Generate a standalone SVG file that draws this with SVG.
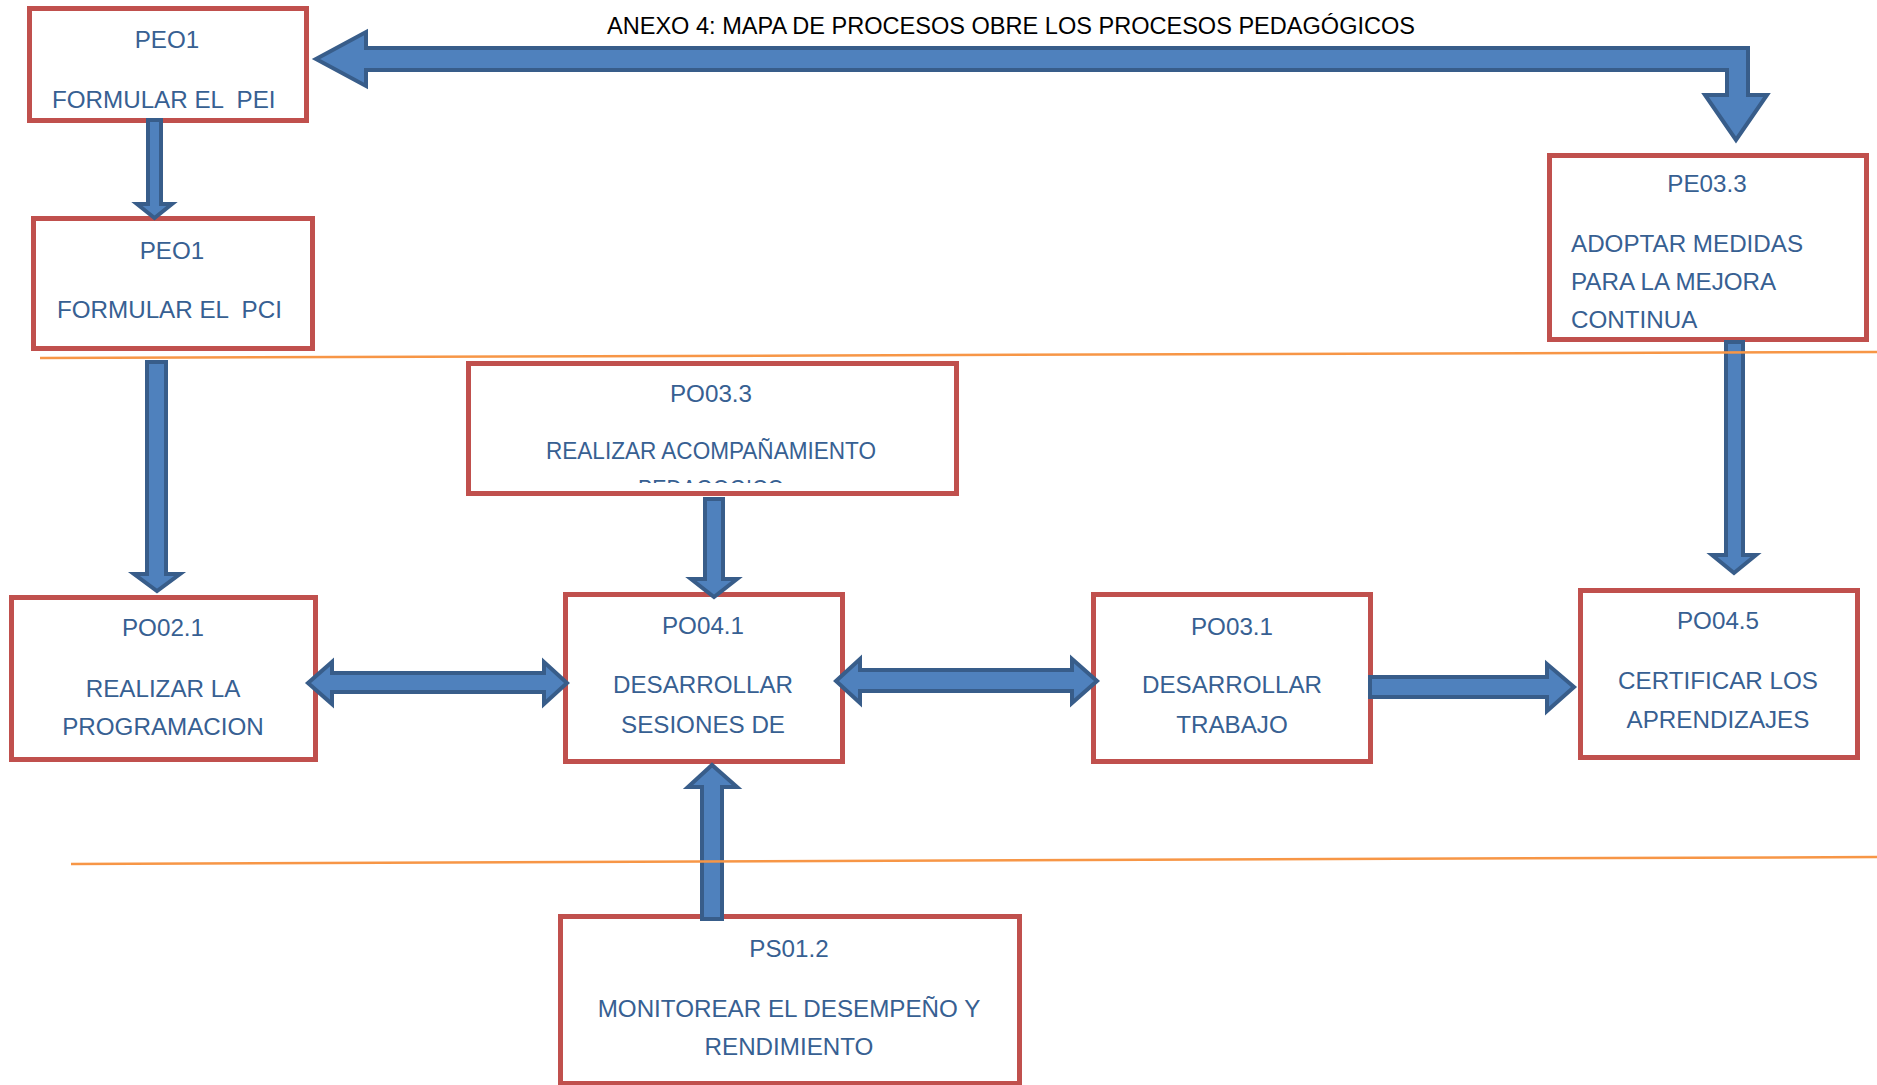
<svg xmlns="http://www.w3.org/2000/svg" width="1877" height="1085" viewBox="0 0 1877 1085">
<style>
.box{fill:#FFFFFF;stroke:#C0504D;stroke-width:5}
.t{font-family:"Liberation Sans",Arial,sans-serif;font-size:24.2px;fill:#376092}
.c{text-anchor:middle}
.title{font-family:"Liberation Sans",Arial,sans-serif;font-size:23px;fill:#000000}
.arr{fill:#4F81BD;stroke:#385D8A;stroke-width:4;stroke-linejoin:miter}
.sep{fill:none;stroke:#F79646;stroke-width:2.5}
</style>
<defs>
<clipPath id="clipPO33"><rect x="466" y="361" width="493" height="122"/></clipPath>
</defs>
<rect width="1877" height="1085" fill="#FFFFFF"/>
<text class="title" x="607" y="34" textLength="808" lengthAdjust="spacingAndGlyphs">ANEXO 4: MAPA DE PROCESOS OBRE LOS PROCESOS PEDAGÓGICOS</text>
<g id="nodes">
<g id="peo1-pei">
<rect class="box" x="29.5" y="8.5" width="277" height="112"/>
<text class="t c" x="167" y="48">PEO1</text>
<text class="t" x="52" y="108" xml:space="preserve">FORMULAR EL  PEI</text>
</g>
<g id="peo1-pci">
<rect class="box" x="33.5" y="218.5" width="279" height="130"/>
<text class="t c" x="172" y="259">PEO1</text>
<text class="t" x="57" y="318" xml:space="preserve">FORMULAR EL  PCI</text>
</g>
<g id="pe03-3">
<rect class="box" x="1549.5" y="155.5" width="317" height="184"/>
<text class="t c" x="1707" y="192">PE03.3</text>
<text class="t" x="1571" y="252">ADOPTAR MEDIDAS</text>
<text class="t" x="1571" y="290">PARA LA MEJORA</text>
<text class="t" x="1571" y="328">CONTINUA</text>
</g>
<g id="po03-3">
<rect class="box" x="468.5" y="363.5" width="488" height="130"/>
<text class="t c" x="711" y="402">PO03.3</text>
<g clip-path="url(#clipPO33)">
<text class="t c" x="711" y="459" textLength="330" lengthAdjust="spacingAndGlyphs">REALIZAR ACOMPAÑAMIENTO</text>
<text class="t c" x="711" y="497" textLength="146" lengthAdjust="spacingAndGlyphs">PEDAGOGICO</text>
</g>
</g>
<g id="po02-1">
<rect class="box" x="11.5" y="597.5" width="304" height="162"/>
<text class="t c" x="163" y="636">PO02.1</text>
<text class="t c" x="163" y="697">REALIZAR LA</text>
<text class="t c" x="163" y="735">PROGRAMACION</text>
</g>
<g id="po04-1">
<rect class="box" x="565.5" y="594.5" width="277" height="167"/>
<text class="t c" x="703" y="634">PO04.1</text>
<text class="t c" x="703" y="693">DESARROLLAR</text>
<text class="t c" x="703" y="733">SESIONES DE</text>
</g>
<g id="po03-1">
<rect class="box" x="1093.5" y="594.5" width="277" height="167"/>
<text class="t c" x="1232" y="635">PO03.1</text>
<text class="t c" x="1232" y="693">DESARROLLAR</text>
<text class="t c" x="1232" y="733">TRABAJO</text>
</g>
<g id="po04-5">
<rect class="box" x="1580.5" y="590.5" width="277" height="167"/>
<text class="t c" x="1718" y="629">PO04.5</text>
<text class="t c" x="1718" y="689">CERTIFICAR LOS</text>
<text class="t c" x="1718" y="728">APRENDIZAJES</text>
</g>
<g id="ps01-2">
<rect class="box" x="560.5" y="916.5" width="459" height="167"/>
<text class="t c" x="789" y="957">PS01.2</text>
<text class="t c" x="789" y="1017">MONITOREAR EL DESEMPEÑO Y</text>
<text class="t c" x="789" y="1055">RENDIMIENTO</text>
</g>
</g>
<g id="connectors">
<path class="arr" d="M316,59 L366,32 L366,48 L1748,48 L1748,95 L1767,95 L1736,140 L1705,95 L1727,95 L1727,70 L366,70 L366,86 Z"/>
<path class="arr" d="M148,120 L161,120 L161,204 L172,204 L154.5,218 L137,204 L148,204 Z"/>
<path class="arr" d="M147,362 L166,362 L166,574 L180,574 L157,591 L134,574 L147,574 Z"/>
<path class="arr" d="M705,499 L723,499 L723,579 L737,579 L714,597 L691,579 L705,579 Z"/>
<path class="arr" d="M702,919 L722,919 L722,787 L737,787 L712,765 L688,787 L702,787 Z"/>
<path class="arr" d="M308,683 L332,662 L332,673 L544,673 L544,662 L567,683 L544,704 L544,692 L332,692 L332,704 Z"/>
<path class="arr" d="M836,681 L860,659 L860,670 L1072,670 L1072,659 L1097,681 L1072,703 L1072,691 L860,691 L860,703 Z"/>
<path class="arr" d="M1370,677 L1547,677 L1547,664 L1574,687 L1547,711 L1547,697 L1370,697 Z"/>
<path class="arr" d="M1726,342 L1743,342 L1743,555 L1756,555 L1734,573 L1712,555 L1726,555 Z"/>
</g>
<g id="separators">
<line class="sep" x1="40" y1="358" x2="1877" y2="352"/>
<line class="sep" x1="71" y1="864" x2="1877" y2="857"/>
</g>
</svg>
